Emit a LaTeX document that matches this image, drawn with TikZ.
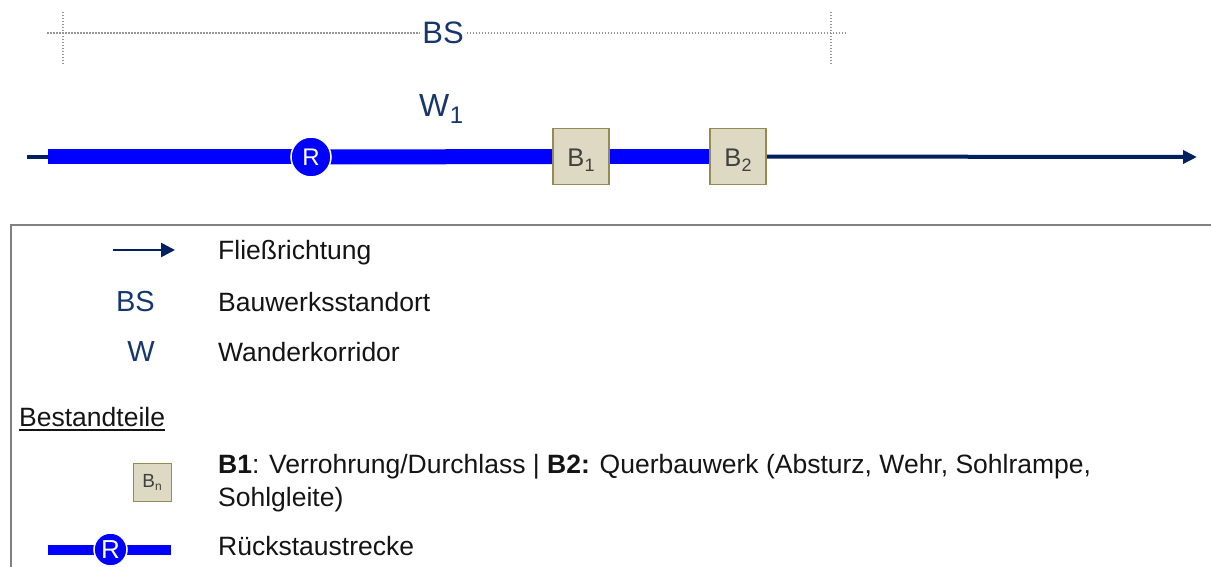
\documentclass[tikz,border=0pt]{standalone}
\usepackage{fontspec}
\setmainfont{Liberation Sans}
\usetikzlibrary{arrows.meta,backgrounds}

\definecolor{flow}{RGB}{0,32,96}
\definecolor{labelnavy}{RGB}{23,54,110}
\definecolor{backwater}{RGB}{0,0,255}
\definecolor{partfill}{RGB}{221,217,195}
\definecolor{partedge}{RGB}{148,138,84}
\definecolor{parttext}{RGB}{64,64,64}
\definecolor{legendtext}{RGB}{20,20,20}
\definecolor{framegray}{RGB}{128,128,128}
\definecolor{dimgray}{RGB}{150,150,150}

\newcommand{\fsz}[1]{\fontsize{#1}{#1}\selectfont}

\begin{document}
\begin{tikzpicture}[x=1pt,y=-1pt,
  dimline/.style={draw=dimgray, line width=1.7pt, dash pattern=on 1.5pt off 1.5pt},
  flowline/.style={draw=flow, line width=4pt},
  stauline/.style={draw=backwater, line width=15pt},
  rmark/.style={circle, fill=backwater, draw=white, line width=1.5pt,
    minimum size=40pt, inner sep=0pt, text=white, font=\fsz{24}},
  part/.style={rectangle, fill=partfill, draw=partedge, line width=1.2pt,
    minimum size=56pt, inner sep=0pt, text=parttext, font=\fsz{25.5},
    text height=26pt, text depth=6pt},
  legtext/.style={anchor=base west, inner sep=0pt, text=legendtext, font=\fsz{26.5}},
  legsym/.style={anchor=base east, inner sep=0pt, text=labelnavy, font=\fsz{29}}
]
\useasboundingbox (0,0) rectangle (1211,567);

% ---- extent of the structure site (BS)
\coordinate (bsL) at (47,33);
\coordinate (bsR) at (845,33);
\coordinate (tickLt) at (63,12);
\coordinate (tickLb) at (63,65);
\coordinate (tickRt) at (831,12);
\coordinate (tickRb) at (831,65);
\node[anchor=base, inner sep=3pt, text=labelnavy, font=\fsz{31}] (bs) at (443,44) {BS};
\draw[dimline] (bsL) -- (bsL -| bs.west);
\draw[dimline] (bsR -| bs.east) -- (bsR);
\draw[dimline] (tickLt) -- (tickLb);
\draw[dimline] (tickRt) -- (tickRb);

% ---- migration corridor label
\node[anchor=base west, inner sep=0pt, text=labelnavy, font=\fsz{32}] (w1) at (419,116.7)
  {W\kern0.5pt\raisebox{-7pt}{\fsz{24}1}};

% ---- watercourse with backwater reach and structures
\coordinate (src) at (27,157);
\coordinate (stau0) at (48,157);
\coordinate (mouth) at (1197,157);
\node[rmark] (r) at (311,157) {R};
\node[part] (b1) at (581,156.5) {B\raisebox{-5pt}{\fsz{18}1}};
\node[part] (b2) at (738,156.5) {B\raisebox{-5pt}{\fsz{18}2}};
\begin{scope}[on background layer]
  \draw[flowline] (src) -- (stau0);
  \draw[stauline] (stau0) -- (r.center);
  \draw[stauline] (r.center) -- (b1.center);
  \draw[stauline] (b1.center) -- (b2.center);
  \draw[flowline, -{Triangle[length=14pt,width=13pt]}] (b2.center) -- (mouth);
\end{scope}

% ---- legend frame (open to the right and bottom)
\coordinate (frTR) at (1230,225);
\coordinate (frTL) at (11,225);
\coordinate (frBL) at (11,590);
\draw[draw=framegray, line width=1.5pt] (frTR) -- (frTL) -- (frBL);

% flow direction
\coordinate (fa) at (113,250);
\coordinate (fb) at (175,250);
\draw[draw=flow, line width=2.7pt, -{Triangle[length=14pt,width=14pt]}] (fa) -- (fb);
\node[legtext] (tflow) at (218,259) {Fließrichtung};

% symbols
\node[legsym] (lbs) at (155,311.7) {BS};
\node[legtext] (tbs) at (218,311.7) {Bauwerksstandort};
\node[legsym] (lw) at (155,361.7) {W};
\node[legtext] (tw) at (218,361.7) {Wanderkorridor};

% components
\node[legtext] (tparts) at (19,426.7) {Bestandteile};
\draw[draw=legendtext, line width=1.5pt] ([yshift=-3.5pt]tparts.base west) -- ([yshift=-3.5pt]tparts.base east);

\node[part, minimum size=38pt, line width=1pt, font=\fsz{19}, text height=14.6pt, text depth=4pt]
  (bn) at (152,482) {B\raisebox{-3.5pt}{\fsz{12}n}};
\node[legtext] (tb1) at (218,473)
  {\textbf{B1}: Verrohrung/Durchlass | \textbf{B2:} Querbauwerk (Absturz, Wehr, Sohlrampe,};
\node[legtext] (tb2) at (218,506.7) {Sohlgleite)};

% backwater reach
\coordinate (ra) at (48,549.5);
\coordinate (rb) at (171,549.5);
\node[rmark, minimum size=33pt, font=\fsz{26}] (lr) at (110.5,549.5) {R};
\begin{scope}[on background layer]
  \draw[draw=backwater, line width=10pt] (ra) -- (lr.center);
  \draw[draw=backwater, line width=10pt] (lr.center) -- (rb);
\end{scope}
\node[legtext] (tr) at (218,555) {Rückstaustrecke};
\end{tikzpicture}
\end{document}
